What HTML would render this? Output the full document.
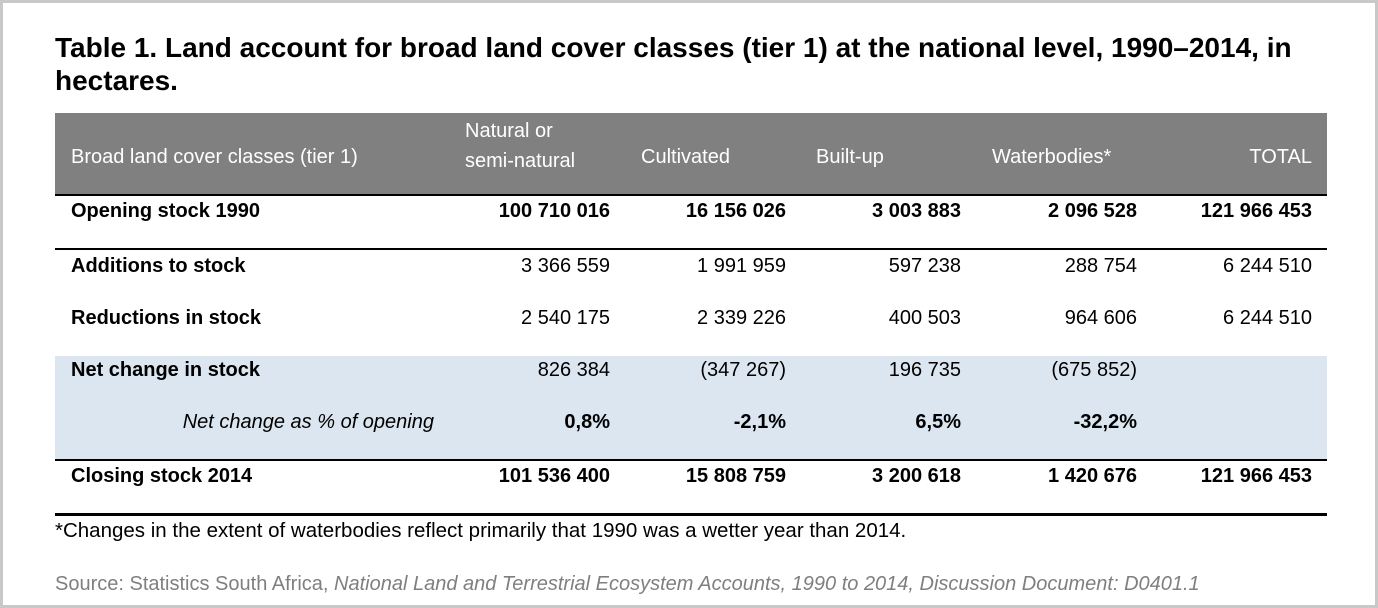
<!DOCTYPE html>
<html><head><meta charset="utf-8"><style>
body{margin:0;width:1378px;height:608px;background:#fff;position:relative;overflow:hidden;font-family:"Liberation Sans",Arial,sans-serif}
.frame{position:absolute;left:0;top:0;width:1372px;height:602px;border:3px solid #c8c8c8}
.t{position:absolute;white-space:nowrap;font-size:20px;color:#000;line-height:22px}
.b{font-weight:bold}
.r{text-align:right}
.hl{position:absolute;left:55px;width:1272px;background:#000}
</style></head><body>
<div class="frame"></div>
<div style="position:absolute;left:55px;top:31px;font-weight:bold;font-size:28px;line-height:33px;color:#000;width:1260px">Table 1. Land account for broad land cover classes (tier 1) at the national level, 1990–2014, in hectares.</div>
<div style="position:absolute;left:55px;top:113px;width:1272px;height:82px;background:#808080"></div>
<div style="position:absolute;left:55px;top:356px;width:1272px;height:104px;background:#dce6f0"></div>
<div class="hl" style="top:194px;height:2px"></div>
<div class="hl" style="top:248px;height:2px"></div>
<div class="hl" style="top:459px;height:2px"></div>
<div class="hl" style="top:513px;height:3px"></div>

<div class="t" style="left:71px;top:146px;color:#fff">Broad land cover classes (tier 1)</div>
<div class="t" style="left:465px;top:116px;color:#fff;line-height:30px">Natural or<br>semi-natural</div>
<div class="t" style="left:641px;top:146px;color:#fff">Cultivated</div>
<div class="t" style="left:816px;top:146px;color:#fff">Built-up</div>
<div class="t" style="left:992px;top:146px;color:#fff">Waterbodies*</div>
<div class="t r" style="left:1200px;width:112px;top:146px;color:#fff">TOTAL</div>

<div class="t b" style="left:71px;top:200px">Opening stock 1990</div>
<div class="t b" style="left:71px;top:255px">Additions to stock</div>
<div class="t b" style="left:71px;top:307px">Reductions in stock</div>
<div class="t b" style="left:71px;top:359px">Net change in stock</div>
<div class="t r" style="left:100px;width:334px;top:411px;font-style:italic">Net change as % of opening</div>
<div class="t b" style="left:71px;top:465px">Closing stock 2014</div>

<div class="t b r" style="left:410px;width:200px;top:200px">100 710 016</div>
<div class="t b r" style="left:586px;width:200px;top:200px">16 156 026</div>
<div class="t b r" style="left:761px;width:200px;top:200px">3 003 883</div>
<div class="t b r" style="left:937px;width:200px;top:200px">2 096 528</div>
<div class="t b r" style="left:1112px;width:200px;top:200px">121 966 453</div>

<div class="t r" style="left:410px;width:200px;top:255px">3 366 559</div>
<div class="t r" style="left:586px;width:200px;top:255px">1 991 959</div>
<div class="t r" style="left:761px;width:200px;top:255px">597 238</div>
<div class="t r" style="left:937px;width:200px;top:255px">288 754</div>
<div class="t r" style="left:1112px;width:200px;top:255px">6 244 510</div>

<div class="t r" style="left:410px;width:200px;top:307px">2 540 175</div>
<div class="t r" style="left:586px;width:200px;top:307px">2 339 226</div>
<div class="t r" style="left:761px;width:200px;top:307px">400 503</div>
<div class="t r" style="left:937px;width:200px;top:307px">964 606</div>
<div class="t r" style="left:1112px;width:200px;top:307px">6 244 510</div>

<div class="t r" style="left:410px;width:200px;top:359px">826 384</div>
<div class="t r" style="left:586px;width:200px;top:359px">(347 267)</div>
<div class="t r" style="left:761px;width:200px;top:359px">196 735</div>
<div class="t r" style="left:937px;width:200px;top:359px">(675 852)</div>

<div class="t b r" style="left:410px;width:200px;top:411px">0,8%</div>
<div class="t b r" style="left:586px;width:200px;top:411px">-2,1%</div>
<div class="t b r" style="left:761px;width:200px;top:411px">6,5%</div>
<div class="t b r" style="left:937px;width:200px;top:411px">-32,2%</div>

<div class="t b r" style="left:410px;width:200px;top:465px">101 536 400</div>
<div class="t b r" style="left:586px;width:200px;top:465px">15 808 759</div>
<div class="t b r" style="left:761px;width:200px;top:465px">3 200 618</div>
<div class="t b r" style="left:937px;width:200px;top:465px">1 420 676</div>
<div class="t b r" style="left:1112px;width:200px;top:465px">121 966 453</div>

<div class="t" style="left:55px;top:520px;font-size:20.5px">*Changes in the extent of waterbodies reflect primarily that 1990 was a wetter year than 2014.</div>
<div class="t" style="left:55px;top:573px;color:#7f7f7f;font-size:20px">Source: Statistics South Africa, <i>National Land and Terrestrial Ecosystem Accounts, 1990 to 2014, Discussion Document: D0401.1</i></div>
</body></html>
